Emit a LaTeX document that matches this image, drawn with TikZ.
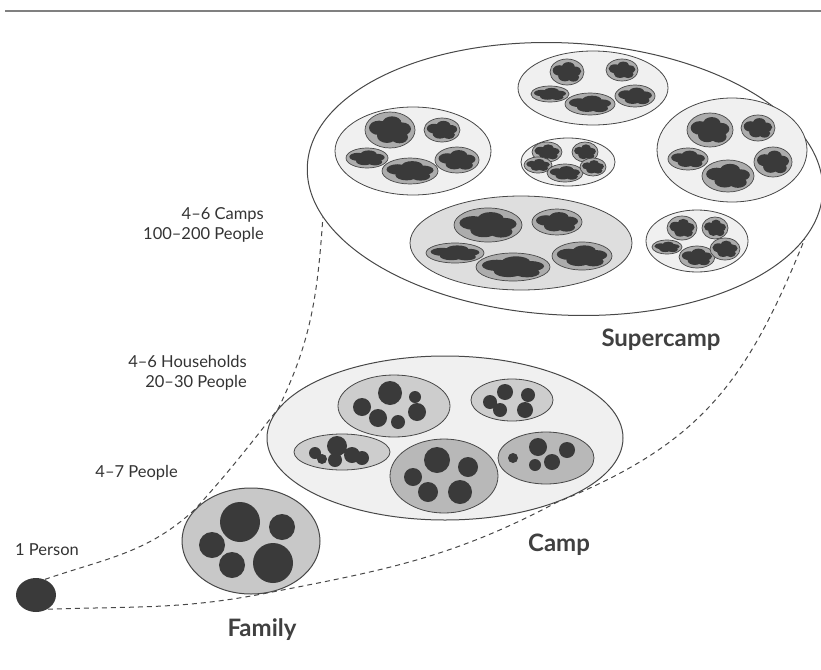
\documentclass[tikz,border=0pt]{standalone}
\usepackage{fontspec}
\setmainfont{Lato}
\usetikzlibrary{shapes.geometric}
\definecolor{InkGray}{RGB}{72,72,72}
\definecolor{BlobGray}{RGB}{58,58,58}
\definecolor{HouseGray}{RGB}{172,172,172}
\definecolor{HouseLight}{RGB}{205,205,205}
\definecolor{HouseDark}{RGB}{184,184,184}
\definecolor{CampPale}{RGB}{240,240,240}
\definecolor{CampMid}{RGB}{222,222,222}
\definecolor{FamilyGray}{RGB}{200,200,200}
% one household of a camp inside the supercamp: x, y, rx, ry
\newcommand{\household}[4]{%
  \draw[house] (#1,#2) ellipse ({#3} and {#4});
  \begin{scope}[shift={(#1,#2)}, xscale=#3, yscale=#4]
    \fill[BlobGray] (-0.44,0.12) circle (0.4) (0.08,0.38) circle (0.38)
      (0.48,0.06) circle (0.36) (-0.12,-0.32) circle (0.4)
      (0.38,-0.4) circle (0.34) (0.02,0.02) circle (0.32);
  \end{scope}}

\begin{document}
\begin{tikzpicture}[x=1pt, y=1pt,
    ring/.style={ellipse, draw=InkGray, line width=1pt, inner sep=0pt},
    camp/.style={draw=InkGray, line width=0.8pt},
    house/.style={draw=InkGray, line width=0.7pt, fill=HouseGray},
    blob/.style={fill=BlobGray},
    trail/.style={draw=InkGray, line width=1pt, dash pattern=on 5pt off 4pt},
    lab/.style={font=\fontsize{16.5}{20}\selectfont, text=black!80, align=right, inner sep=0pt},
    title/.style={font=\fontsize{24}{28}\selectfont\bfseries, text=black!75, inner sep=0pt}
  ]
  \useasboundingbox (0,0) rectangle (821,-669);
  \draw[gray, line width=2pt] (5,-11) -- (821,-11);

  % supercamp with its six camps
  \node[ring, fill=white, minimum width=516pt, minimum height=272pt, rotate=-3] (supercamp) at (565,-179) {};
  \draw[camp, fill=CampPale] (593,-88) ellipse (75 and 37);
  \draw[camp, fill=CampPale] (413,-151) ellipse (78 and 44);
  \draw[camp, fill=CampPale] (568,-162) ellipse (47 and 24);
  \draw[camp, fill=CampPale] (732,-150) ellipse (75 and 52);
  \draw[camp, fill=CampMid] (521,-243) ellipse (111 and 47);
  \draw[camp, fill=CampPale] (697,-241) ellipse (51 and 31);
  \household{567}{-72}{17}{13} \household{622}{-70}{16}{11}
  \household{550}{-94}{19}{8} \household{590}{-104}{25}{11}
  \household{635}{-96}{20}{11}
  \household{390}{-130}{25}{18} \household{442}{-130}{18}{12}
  \household{367}{-158}{21}{10} \household{410}{-171}{28}{13}
  \household{457}{-160}{22}{13}
  \household{547}{-152}{15}{10} \household{585}{-152}{13}{10}
  \household{538}{-165}{14}{8} \household{565}{-173}{18}{9}
  \household{593}{-167}{13}{9}
  \household{710}{-130}{23}{17} \household{758}{-128}{17}{13}
  \household{688}{-159}{20}{11} \household{728}{-176}{26}{16}
  \household{773}{-162}{19}{15}
  \household{488}{-225}{34}{17} \household{557}{-222}{25}{13}
  \household{455}{-253}{29}{10} \household{513}{-267}{37}{14}
  \household{582}{-256}{30}{14}
  \household{682}{-228}{15}{12} \household{715}{-228}{13}{11}
  \household{667}{-247}{15}{7} \household{697}{-257}{18}{11}
  \household{725}{-249}{15}{11}

  % camp with five households
  \node[ring, fill=CampPale, minimum width=356pt, minimum height=164pt] (camp) at (445,-438) {};
  \draw[camp, fill=HouseLight] (394,-406) ellipse (56 and 31);
  \fill[blob] (390,-393) circle (12) (415,-397) circle (6) (362,-407) circle (9)
    (378,-418) circle (9) (398,-422) circle (7) (417,-412) circle (9);
  \draw[camp, fill=HouseLight] (512,-400) ellipse (41 and 21);
  \fill[blob] (505,-392) circle (8) (528,-395) circle (7) (490,-402) circle (7)
    (500,-410) circle (7) (525,-410) circle (8);
  \draw[camp, fill=HouseLight] (342,-452) ellipse (48 and 18);
  \fill[blob] (337,-446) circle (10) (315,-453) circle (6) (352,-455) circle (8)
    (362,-458) circle (7) (335,-460) circle (7) (322,-459) circle (5);
  \draw[camp, fill=HouseDark] (444,-476) ellipse (54 and 37);
  \fill[blob] (437,-460) circle (13) (468,-467) circle (10) (413,-477) circle (9)
    (428,-492) circle (10) (460,-492) circle (12);
  \draw[camp, fill=HouseDark] (546,-458) ellipse (48 and 26);
  \fill[blob] (538,-447) circle (9) (567,-450) circle (8) (513,-458) circle (5)
    (535,-465) circle (6) (552,-462) circle (8);

  % family and person
  \node[ring, fill=FamilyGray, minimum width=138pt, minimum height=106pt] (family) at (251,-541) {};
  \fill[blob] (240,-522) circle (20) (282,-527) circle (13) (212,-545) circle (13)
    (232,-565) circle (13) (273,-563) circle (20);
  \node[ring, fill=BlobGray, draw=none, minimum width=40pt, minimum height=34pt] (person) at (36,-595) {};

  % the two dashed trails
  \draw[trail] (person.60) to[out=19,in=223] (family.150)
    to[out=48,in=232] (camp.170) to[out=64,in=266] (supercamp.192);
  \draw[trail] (person.-50) to[out=2,in=191] (family.-75)
    to[out=11,in=208] (camp.-30) to[out=22,in=248,looseness=1.1] (supercamp.-11);

  % labels
  \node[lab, anchor=north east] (campsnote) at (264,-207) {4–6 Camps\\100–200 People};
  \node[lab, anchor=north east] (housenote) at (247,-355) {4–6 Households\\20–30 People};
  \node[lab, anchor=north east] (famnote) at (178,-465) {4–7 People};
  \node[lab, anchor=north west] (personnote) at (15,-543) {1 Person};
  \node[title] (supercamplab) at (661,-340) {Supercamp};
  \node[title] (camplab) at (559,-545) {Camp};
  \node[title] (familylab) at (262,-630) {Family};
\end{tikzpicture}
\end{document}
